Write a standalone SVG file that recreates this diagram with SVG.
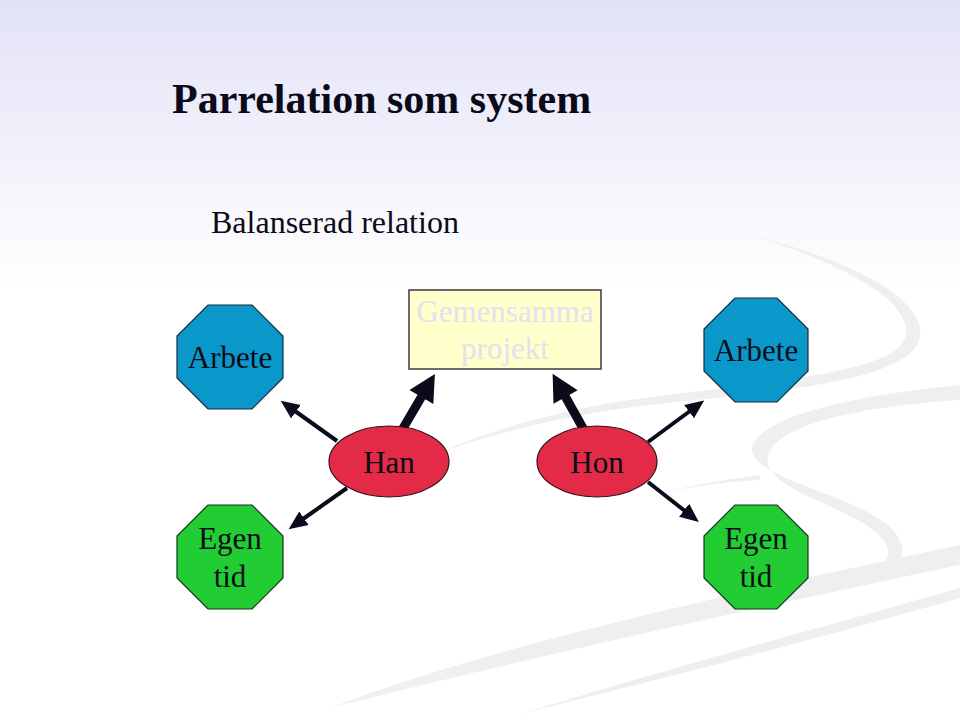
<svg xmlns="http://www.w3.org/2000/svg" width="960" height="720" viewBox="0 0 960 720">
  <defs>
    <linearGradient id="bg" x1="0" y1="0" x2="0" y2="1">
      <stop offset="0" stop-color="#e2e2f7"/>
      <stop offset="0.4" stop-color="#ffffff"/>
      <stop offset="1" stop-color="#ffffff"/>
    </linearGradient>
    <marker id="headThin" markerUnits="userSpaceOnUse" markerWidth="20" markerHeight="20" viewBox="0 -8 17 16" refX="1" refY="0" orient="auto">
      <path d="M0,-7 L16,0 L0,7 Z" fill="#0b0b1c"/>
    </marker>
    <marker id="headThick" markerUnits="userSpaceOnUse" markerWidth="30" markerHeight="30" viewBox="0 -13 24 26" refX="1" refY="0" orient="auto">
      <path d="M0,-12 L23,0 L0,12 Z" fill="#0b0b1c"/>
    </marker>
  </defs>
  <style>
    .serif { font-family: "Liberation Serif", "Times New Roman", serif; }
    .title { font-size: 42px; font-weight: bold; fill: #0a0a1a; }
    .sub { font-size: 32px; fill: #0a0a1a; }
    .lbl { font-size: 31px; fill: #0d0d1a; text-anchor: middle; }
    .ghost { font-size: 31px; fill: #e1e1f0; text-anchor: middle; }
    .blue { fill: #0a97c9; stroke: #1a2a3a; stroke-width: 1.2; }
    .green { fill: #22cc33; stroke: #1a3320; stroke-width: 1.2; }
    .red { fill: #e32a47; stroke: #3a1018; stroke-width: 1.2; }
    .box { fill: #ffffcc; stroke: #3a3a3a; stroke-width: 1.5; }
    .thin { stroke: #0b0b1c; stroke-width: 4; fill: none; marker-end: url(#headThin); }
    .thick { stroke: #0b0b1c; stroke-width: 9; fill: none; marker-end: url(#headThick); }
  </style>

  <rect x="0" y="0" width="960" height="720" fill="url(#bg)"/>

  <g id="background-swooshes" fill="#ececec" opacity="0.8">
    <path d="M 745 233 C 860 262, 935 305, 918 343 C 898 383, 770 392, 650 405 C 570 414, 500 432, 440 452 C 500 426, 580 405, 660 396 C 790 380, 898 370, 906 336 C 912 300, 840 262, 745 233 Z"/>
    <path d="M 960 385 C 860 395, 760 415, 752 448 C 748 478, 860 495, 893 530 C 918 560, 890 580, 852 586 C 880 572, 900 558, 880 536 C 850 505, 760 490, 768 455 C 780 420, 880 405, 960 400 Z"/>
    <path d="M 760 475 C 720 480, 680 488, 640 497 C 680 488, 720 482, 760 480 Z"/>
    <path d="M 330 708 C 480 650, 700 600, 960 545 L 960 565 C 720 615, 500 665, 330 708 Z"/>
    <path d="M 520 714 C 680 665, 830 625, 960 588 L 960 598 C 830 635, 680 675, 520 714 Z"/>
  </g>

  <text class="serif title" x="172" y="113">Parrelation som system</text>
  <text class="serif sub" x="211" y="233">Balanserad relation</text>

  <g id="connectors">
    <line class="thin" x1="337" y1="441" x2="295" y2="411"/>
    <line class="thin" x1="347" y1="488" x2="303" y2="519"/>
    <line class="thick" x1="402" y1="430" x2="422" y2="396"/>
    <line class="thick" x1="584" y1="430" x2="565" y2="396"/>
    <line class="thin" x1="648" y1="442" x2="690" y2="411"/>
    <line class="thin" x1="648" y1="482" x2="685" y2="511"/>
  </g>

  <g id="arbete-left">
    <polygon class="blue" points="208,305 252,305 283,336 283,378 252,409 208,409 177,378 177,336"/>
    <text class="serif lbl" x="230" y="368">Arbete</text>
  </g>
  <g id="egen-tid-left">
    <polygon class="green" points="208,505 252,505 283,536 283,578 252,609 208,609 177,578 177,536"/>
    <text class="serif lbl" x="230" y="549">Egen</text>
    <text class="serif lbl" x="230" y="587">tid</text>
  </g>
  <g id="gemensamma-projekt">
    <rect class="box" x="409" y="290" width="192" height="79"/>
    <text class="serif ghost" x="505" y="322">Gemensamma</text>
    <text class="serif ghost" x="505" y="359">projekt</text>
  </g>
  <g id="han">
    <ellipse class="red" cx="389" cy="461.5" rx="60" ry="35.5"/>
    <text class="serif lbl" x="389" y="473">Han</text>
  </g>
  <g id="hon">
    <ellipse class="red" cx="597" cy="461.5" rx="60" ry="35.5"/>
    <text class="serif lbl" x="597" y="473">Hon</text>
  </g>
  <g id="arbete-right">
    <polygon class="blue" points="735,298 777,298 808,329 808,371 777,402 735,402 704,371 704,329"/>
    <text class="serif lbl" x="756" y="361">Arbete</text>
  </g>
  <g id="egen-tid-right">
    <polygon class="green" points="735,505 777,505 808,536 808,578 777,609 735,609 704,578 704,536"/>
    <text class="serif lbl" x="756" y="549">Egen</text>
    <text class="serif lbl" x="756" y="587">tid</text>
  </g>
</svg>
